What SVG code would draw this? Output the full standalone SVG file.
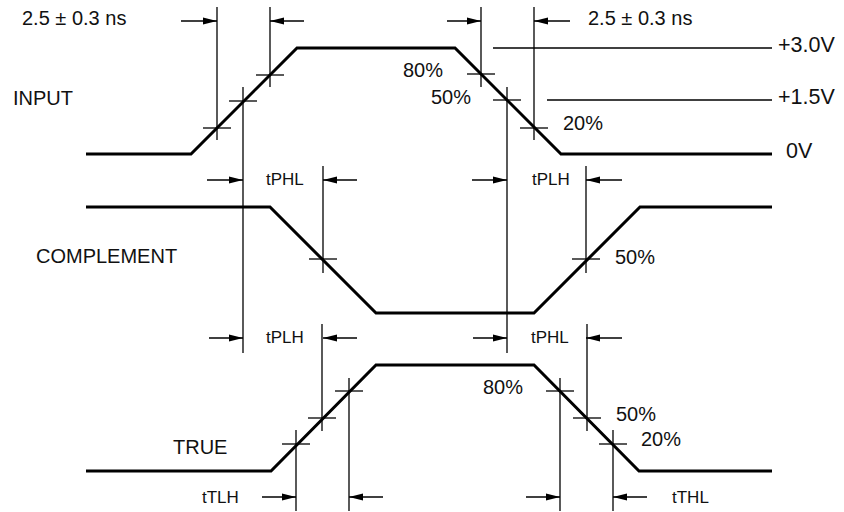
<svg xmlns="http://www.w3.org/2000/svg" width="844" height="512" viewBox="0 0 844 512">
<style>
.w{fill:none;stroke:#000;stroke-width:3;stroke-linejoin:miter}
.t{fill:none;stroke:#000;stroke-width:1.3}
.a{fill:none;stroke:#000;stroke-width:1.3;marker-end:url(#ah)}
text{font-family:"Liberation Sans",Arial,sans-serif;font-size:20px;fill:#111}
.s{font-size:17px}
.v{font-size:21.5px}
</style>
<defs>
<marker id="ah" viewBox="0 0 14 8" refX="14" refY="4" markerWidth="14" markerHeight="8" markerUnits="userSpaceOnUse" orient="auto">
<path d="M0,0.5 L14,4 L0,7.5 z" fill="#000"/>
</marker>
</defs>
<rect width="844" height="512" fill="#fff"/>

<g id="input">
<polyline class="w" points="86,154 191,154 297,48 455,48 561,154 772,154"/>
<text x="13" y="105">INPUT</text>
<line class="t" x1="493" y1="48" x2="772" y2="48"/>
<line class="t" x1="547" y1="100" x2="772" y2="100"/>
<text class="v" x="778" y="52">+3.0V</text>
<text class="v" x="778" y="104">+1.5V</text>
<text class="v" x="786" y="158">0V</text>
<text x="22" y="25">2.5 ± 0.3 ns</text>
<text x="588" y="25">2.5 ± 0.3 ns</text>
<text x="403" y="77">80%</text>
<text x="431" y="104">50%</text>
<text x="563" y="130">20%</text>
</g>

<g id="complement">
<polyline class="w" points="86,207 270,207 376,313 534,313 640,207 772,207"/>
<text x="36" y="263">COMPLEMENT</text>
<text x="615" y="264">50%</text>
</g>

<g id="true">
<polyline class="w" points="86,471 271,471 376,365 534,365 639,471 772,471"/>
<text x="173" y="454">TRUE</text>
<text x="483" y="394">80%</text>
<text x="616" y="421">50%</text>
<text x="641" y="446">20%</text>
</g>

<g id="connectors">
<line class="t" x1="203" y1="128" x2="231" y2="128"/>
<line class="t" x1="217" y1="7" x2="217" y2="140"/>
<line class="t" x1="229" y1="101" x2="257" y2="101"/>
<line class="t" x1="243" y1="87" x2="243" y2="353"/>
<line class="t" x1="256" y1="75" x2="284" y2="75"/>
<line class="t" x1="270" y1="7" x2="270" y2="87"/>
<line class="a" x1="181" y1="21" x2="217" y2="21"/>
<line class="a" x1="304" y1="21" x2="270" y2="21"/>
<line class="t" x1="467" y1="74" x2="495" y2="74"/>
<line class="t" x1="481" y1="7" x2="481" y2="87"/>
<line class="t" x1="493" y1="100" x2="521" y2="100"/>
<line class="t" x1="507" y1="87" x2="507" y2="353"/>
<line class="t" x1="520" y1="128" x2="548" y2="128"/>
<line class="t" x1="534" y1="7" x2="534" y2="140"/>
<line class="a" x1="447" y1="21" x2="481" y2="21"/>
<line class="a" x1="570" y1="21" x2="534" y2="21"/>
<line class="t" x1="309" y1="259" x2="337" y2="259"/>
<line class="t" x1="323" y1="166" x2="323" y2="273"/>
<line class="t" x1="572" y1="259" x2="600" y2="259"/>
<line class="t" x1="586" y1="166" x2="586" y2="273"/>
<line class="a" x1="207" y1="180" x2="243" y2="180"/>
<line class="a" x1="357" y1="180" x2="323" y2="180"/>
<text class="s" x="266" y="185">tPHL</text>
<line class="a" x1="472" y1="180" x2="507" y2="180"/>
<line class="a" x1="622" y1="180" x2="586" y2="180"/>
<text class="s" x="532" y="185">tPLH</text>
<line class="a" x1="209" y1="338" x2="243" y2="338"/>
<line class="a" x1="357" y1="338" x2="323" y2="338"/>
<text class="s" x="266" y="343">tPLH</text>
<line class="a" x1="473" y1="338" x2="507" y2="338"/>
<line class="a" x1="622" y1="338" x2="586" y2="338"/>
<text class="s" x="531" y="343">tPHL</text>
<line class="t" x1="282" y1="444" x2="310" y2="444"/>
<line class="t" x1="296" y1="430" x2="296" y2="511"/>
<line class="t" x1="308" y1="418" x2="336" y2="418"/>
<line class="t" x1="322" y1="324" x2="322" y2="431"/>
<line class="t" x1="335" y1="391" x2="363" y2="391"/>
<line class="t" x1="349" y1="378" x2="349" y2="511"/>
<line class="a" x1="262" y1="497" x2="296" y2="497"/>
<line class="a" x1="383" y1="497" x2="349" y2="497"/>
<text class="s" x="202" y="503">tTLH</text>
<line class="t" x1="546" y1="391" x2="574" y2="391"/>
<line class="t" x1="560" y1="378" x2="560" y2="511"/>
<line class="t" x1="573" y1="418" x2="601" y2="418"/>
<line class="t" x1="587" y1="324" x2="587" y2="431"/>
<line class="t" x1="599" y1="444" x2="627" y2="444"/>
<line class="t" x1="613" y1="430" x2="613" y2="511"/>
<line class="a" x1="526" y1="497" x2="560" y2="497"/>
<line class="a" x1="647" y1="497" x2="613" y2="497"/>
<text class="s" x="672" y="503">tTHL</text>
</g>
</svg>
